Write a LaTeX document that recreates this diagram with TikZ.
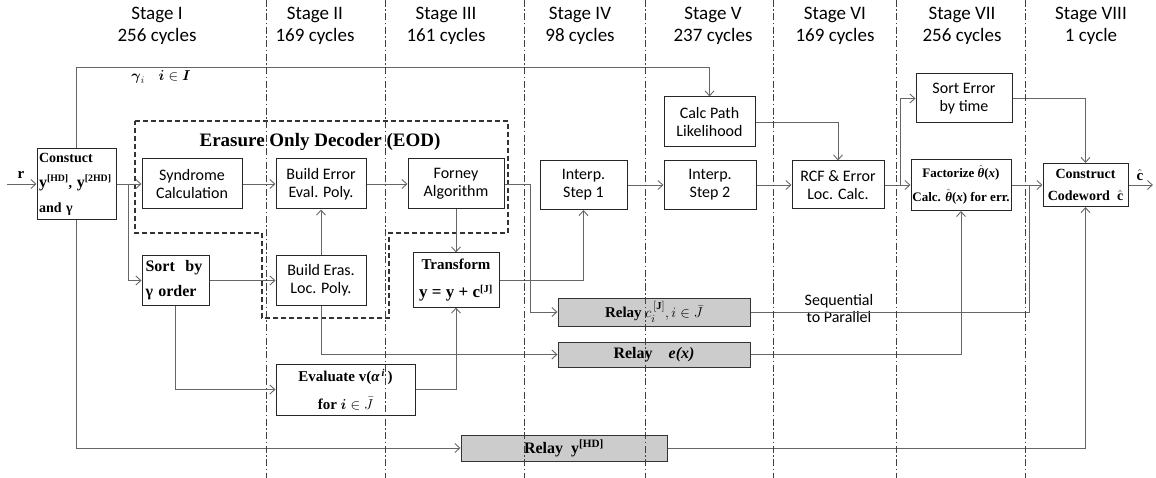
\documentclass[tikz,border=0pt]{standalone}
\usepackage{amsmath}
\usepackage{fontspec}
\setmainfont{Liberation Serif}
\newfontfamily\calfont{Carlito}
\usetikzlibrary{arrows.meta}
% hatted theta set in the text face
\newcommand{\thhat}{$\hat{\text{\bfseries\itshape θ}}$}

\begin{document}
\begin{tikzpicture}[x=1pt,y=-1pt,
  box/.style={draw=black!85, line width=1pt, fill=white, inner sep=2pt, align=center},
  calbox/.style={box, font=\calfont\fontsize{16}{18}\selectfont},
  relay/.style={draw=black!80, line width=1pt, fill=black!20, inner sep=2pt},
  conn/.style={draw=black!60, line width=0.9pt},
  arr/.style={conn, -{Straight Barb[length=5pt,width=9pt]}},
  divider/.style={draw=black!75, line width=0.9pt, dash pattern=on 7pt off 2.5pt on 1.5pt off 2.5pt},
  eod/.style={draw=black!80, line width=1.2pt, dash pattern=on 5pt off 3pt},
  stagelbl/.style={font=\calfont\fontsize{19}{22}\selectfont, align=center}
]
\useasboundingbox (0,0) rectangle (1156,478);

% stage headings
\node[stagelbl] (st1) at (157,26) {Stage I\\256 cycles};
\node[stagelbl] (st2) at (315,26) {Stage II\\169 cycles};
\node[stagelbl] (st3) at (446,26) {Stage III\\161 cycles};
\node[stagelbl] (st4) at (580,26) {Stage IV\\98 cycles};
\node[stagelbl] (st5) at (713,26) {Stage V\\237 cycles};
\node[stagelbl] (st6) at (835,26) {Stage VI\\169 cycles};
\node[stagelbl] (st7) at (962,26) {Stage VII\\256 cycles};
\node[stagelbl] (st8) at (1091,26) {Stage VIII\\1 cycle};

% erasure-only decoder outline
\draw[eod] (135,121) -- (508,121) -- (508,233) -- (389,233) -- (389,318)
  -- (262,318) -- (262,233) -- (135,233) -- cycle;
\node[font=\bfseries\fontsize{19}{22}\selectfont] (eodtitle) at (320,142) {Erasure Only Decoder (EOD)};

% processing blocks
\node[box, align=left, text width=75pt, inner xsep=2pt, minimum height=71pt,
  font=\bfseries\fontsize{14}{25}\selectfont] (con) at (76.5,184)
  {Constuct\\\mbox{{\fontsize{16}{25}\selectfont y}\textsuperscript{[HD]}, {\fontsize{16}{25}\selectfont y}\textsuperscript{[2HD]}}\\and γ};
\node[calbox, minimum width=100pt, minimum height=50pt] (syn) at (192,184) {Syndrome\\Calculation};
\node[calbox, minimum width=90pt, minimum height=50pt] (bee) at (321,184) {Build Error\\Eval. Poly.};
\node[calbox, minimum width=96pt, minimum height=50pt] (forney) at (456,184) {Forney\\Algorithm};
\node[box, align=left, text width=60pt, inner xsep=3.5pt, minimum height=49pt,
  font=\bfseries\fontsize{16}{25}\selectfont] (sort) at (175.5,280.5) {Sort\ \ by\\γ order};
\node[calbox, minimum width=90pt, minimum height=49pt] (bel) at (321,280.5) {Build Eras.\\Loc. Poly.};
\node[box, minimum width=86pt, minimum height=54pt, font=\bfseries\fontsize{15}{28}\selectfont] (trans) at (456,280)
  {Transform\\{\fontsize{17}{28}\selectfont y = y + c}\textsuperscript{[J]}};
\node[box, minimum width=139pt, minimum height=51pt, font=\bfseries\fontsize{15}{28}\selectfont] (eval) at (345.5,389.5)
  {Evaluate v(\textit{α}\textsuperscript{\,\textit{i}}\,)\\for $\boldsymbol{i}\in\bar{J}$};
\node[calbox, minimum width=87pt, minimum height=49pt] (int1) at (583.5,185) {Interp.\\Step 1};
\node[calbox, minimum width=92pt, minimum height=49pt] (int2) at (710,185) {Interp.\\Step 2};
\node[calbox, minimum width=91pt, minimum height=50pt] (calc) at (709.5,122) {Calc Path\\Likelihood};
\node[calbox, minimum width=92pt, minimum height=48pt] (rcf) at (838,185) {RCF \& Error\\Loc. Calc.};
\node[calbox, minimum width=96pt, minimum height=49pt] (sorterr) at (964,98.5) {Sort Error\\by time};
\node[box, minimum width=100pt, minimum height=51pt, inner xsep=1pt,
  font=\bfseries\fontsize{13}{24}\selectfont] (fact) at (961,185)
  {Factorize \thhat(\textit{x})\\Calc. \thhat(\textit{x}) for err.};
\node[box, minimum width=85pt, minimum height=43pt, font=\bfseries\fontsize{14}{22}\selectfont] (cw) at (1085.5,185)
  {Construct\\Codeword\ \ $\hat{\mathbf{c}}$};

% relay registers
\node[relay, minimum width=192pt, minimum height=28pt, font=\fontsize{15}{16}\selectfont] (relc) at (654,312)
  {\textbf{Relay} $c_i^{\,\mathbf{[J]}}, i\in\bar{J}$};
\node[relay, minimum width=192pt, minimum height=25pt, font=\bfseries\fontsize{16}{18}\selectfont] (rele) at (654,354.5)
  {Relay\quad \textit{e(x)}};
\node[relay, minimum width=206pt, minimum height=26pt, font=\bfseries\fontsize{16}{18}\selectfont] (rely) at (564,448)
  {Relay\ \ y\textsuperscript{[HD]}};

% labels
\node[font=\bfseries\fontsize{15}{16}\selectfont] (rlbl) at (21,175) {r};
\node[font=\fontsize{14}{16}\selectfont] (glbl) at (161,77) {$\boldsymbol{\gamma}_{i}\quad \boldsymbol{i}\in\boldsymbol{I}$};
\node[font=\fontsize{15}{16}\selectfont] (chat) at (1140,175) {$\hat{\mathbf{c}}$};
\node[font=\calfont\fontsize{16}{17}\selectfont, align=center] (s2p) at (839,309) {Sequential\\to Parallel};

% junction points
\coordinate (rin) at (7,184);
\coordinate (cout) at (1153,185);
\coordinate (b1) at (128,184);
\coordinate (b2) at (900,185);
\coordinate (b3) at (1029,185);

% connectors
\draw[arr] (rin) -- (con.west);
\draw[arr] (con.east) -- (syn.west);
\draw[arr] (b1) |- (sort.west);
\draw[arr] (syn.east) -- (bee.west);
\draw[arr] (bee.east) -- (forney.west);
\draw[arr] (sort.east) -- (bel.west);
\draw[arr] (bel.north) -- (bee.south);
\draw[arr] (forney.south) -- (trans.north);
\draw[arr] (forney.east) -- ++(26,0) |- (relc.west);
\draw[arr] (trans.east) -| (int1.south);
\draw[arr] (sort.south) |- (eval.west);
\draw[arr] (eval.east) -| (trans.south);
\draw[arr] (bel.south) |- (rele.west);
\draw[arr] (con.south) |- (rely.west);
\draw[arr] (rely.east) -| (cw.south);
\draw[arr] (con.north) -- ++(0,-81) -| (calc.north);
\draw[arr] (int1.east) -- (int2.west);
\draw[arr] (int2.east) -- (rcf.west);
\draw[arr] (calc.east) -| (rcf.north);
\draw[arr] (rcf.east) -- (fact.west);
\draw[arr] (b2) |- (sorterr.west);
\draw[arr] (fact.east) -- (cw.west);
\draw[arr] (sorterr.east) -| (cw.north);
\draw[conn] (relc.east) -| (b3);
\draw[arr] (rele.east) -| (fact.south);
\draw[arr] (cw.east) -- (cout);

% stage boundaries
\foreach \xd in {266,385,524,645,773,896,1025}
  \draw[divider] (\xd,0) -- (\xd,478);
\end{tikzpicture}
\end{document}
